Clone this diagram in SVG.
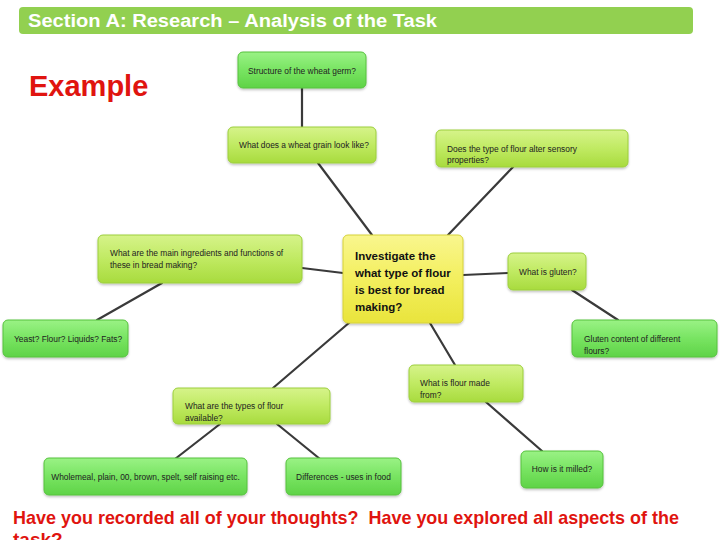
<svg xmlns="http://www.w3.org/2000/svg" width="720" height="540" viewBox="0 0 720 540">
<defs>
<linearGradient id="gG" x1="0" y1="0" x2="0" y2="1"><stop offset="0" stop-color="#9af285"/><stop offset="0.5" stop-color="#78e462"/><stop offset="1" stop-color="#5fd347"/></linearGradient>
<linearGradient id="gY" x1="0" y1="0" x2="0" y2="1"><stop offset="0" stop-color="#d6f38a"/><stop offset="0.5" stop-color="#c0ea62"/><stop offset="1" stop-color="#a8db3e"/></linearGradient>
<linearGradient id="gC" x1="0" y1="0" x2="0" y2="1"><stop offset="0" stop-color="#f9f68e"/><stop offset="0.5" stop-color="#f3ef5e"/><stop offset="1" stop-color="#e9e43c"/></linearGradient>
<filter id="sh" x="-10%" y="-10%" width="120%" height="130%"><feDropShadow dx="0" dy="1.5" stdDeviation="1.2" flood-color="#000" flood-opacity="0.25"/></filter>
</defs>
<style>
.g{fill:url(#gG);stroke:#56c23e;stroke-width:1;filter:url(#sh)}
.y{fill:url(#gY);stroke:#9ccf3c;stroke-width:1;filter:url(#sh)}
.c{fill:url(#gC);stroke:#d6d23a;stroke-width:1;filter:url(#sh)}
.t{font-family:"Liberation Sans",Arial,sans-serif;font-size:8.4px;fill:#222}
.m{text-anchor:middle}
.ct{font-family:"Liberation Sans",Arial,sans-serif;font-size:11.5px;font-weight:bold;fill:#111}
.ln{stroke:#3a3a3a;stroke-width:2.2;fill:none;stroke-linecap:round}
.red{font-family:"Liberation Sans",Arial,sans-serif;font-weight:bold;fill:#e0140f}
</style>
<rect width="720" height="540" fill="#fff"/>
<g id="header">
<rect x="19" y="7" width="674" height="27" rx="4" fill="#92d050"/>
<text x="28" y="27" font-family="Liberation Sans,Arial,sans-serif" font-size="18" font-weight="bold" fill="#fff" textLength="409" lengthAdjust="spacingAndGlyphs">Section A: Research – Analysis of the Task</text>
</g>
<text class="red" x="29" y="96" font-size="29">Example</text>
<g id="connectors">
<line class="ln" x1="302" y1="88" x2="302" y2="127"/>
<line class="ln" x1="318" y1="163" x2="372" y2="235"/>
<line class="ln" x1="513" y1="167" x2="448" y2="235"/>
<line class="ln" x1="302" y1="268" x2="343" y2="273"/>
<line class="ln" x1="162" y1="283" x2="97" y2="320"/>
<line class="ln" x1="463" y1="275" x2="508" y2="273"/>
<line class="ln" x1="572" y1="290" x2="618" y2="320"/>
<line class="ln" x1="430" y1="323" x2="455" y2="365"/>
<line class="ln" x1="350" y1="322" x2="273" y2="388"/>
<line class="ln" x1="220" y1="424" x2="175" y2="459"/>
<line class="ln" x1="277" y1="424" x2="320" y2="459"/>
<line class="ln" x1="486" y1="402" x2="542" y2="451"/>
</g>
<g id="n1"><rect class="g" x="238" y="52" width="128" height="36" rx="5"/><text class="t m" x="302" y="74">Structure of the wheat germ?</text></g>
<g id="n2"><rect class="y" x="228" y="127" width="148" height="36" rx="5"/><text class="t" x="239" y="148">What does a wheat grain look like?</text></g>
<g id="n3"><rect class="y" x="436" y="130" width="192" height="37" rx="5"/><text class="t" x="447" y="152">Does the type of flour alter sensory</text><text class="t" x="447" y="163">properties?</text></g>
<g id="n4"><rect class="y" x="98" y="235" width="204" height="48" rx="5"/><text class="t" x="110" y="256">What are the main ingredients and functions of</text><text class="t" x="110" y="268">these in bread making?</text></g>
<g id="center"><rect class="c" x="343" y="235" width="120" height="88" rx="5"/><text class="ct" x="355" y="260">Investigate the</text><text class="ct" x="355" y="277">what type of flour</text><text class="ct" x="355" y="294">is best for bread</text><text class="ct" x="355" y="311">making?</text></g>
<g id="n6"><rect class="y" x="508" y="253" width="78" height="37" rx="5"/><text class="t" x="519" y="275">What is gluten?</text></g>
<g id="n7"><rect class="g" x="3" y="320" width="125" height="37" rx="5"/><text class="t" x="14" y="342">Yeast? Flour? Liquids? Fats?</text></g>
<g id="n8"><rect class="g" x="572" y="320" width="145" height="37" rx="5"/><text class="t" x="584" y="342">Gluten content of different</text><text class="t" x="584" y="354">flours?</text></g>
<g id="n9"><rect class="y" x="409" y="365" width="114" height="37" rx="5"/><text class="t" x="420" y="386">What is flour made</text><text class="t" x="420" y="398">from?</text></g>
<g id="n10"><rect class="y" x="173" y="388" width="157" height="36" rx="5"/><text class="t" x="185" y="409">What are the types of flour</text><text class="t" x="185" y="421">available?</text></g>
<g id="n11"><rect class="g" x="44" y="458" width="203" height="37" rx="5"/><text class="t m" x="145.5" y="480">Wholemeal, plain, 00, brown, spelt, self raising etc.</text></g>
<g id="n12"><rect class="g" x="286" y="458" width="115" height="37" rx="5"/><text class="t m" x="343.5" y="480">Differences - uses in food</text></g>
<g id="n13"><rect class="g" x="521" y="451" width="82" height="37" rx="5"/><text class="t m" x="562" y="472">How is it milled?</text></g>
<text class="red" x="13" y="524" font-size="19" textLength="666" lengthAdjust="spacingAndGlyphs">Have you recorded all of your thoughts?&#160; Have you explored all aspects of the</text>
<text class="red" x="13" y="546" font-size="19">task?</text>
</svg>
